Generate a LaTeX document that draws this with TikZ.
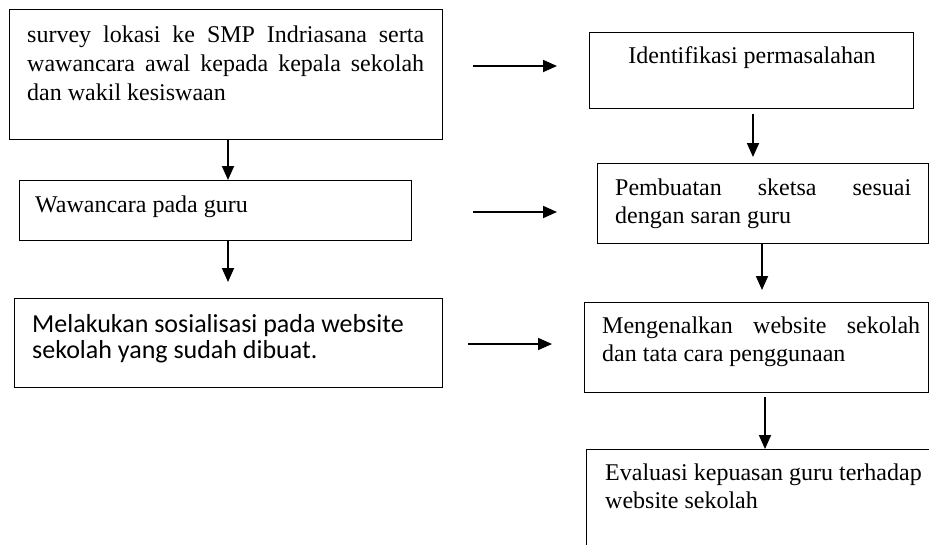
\documentclass[tikz,border=0pt]{standalone}
\usepackage{fontspec}
\setmainfont{Liberation Serif}
\newfontfamily\carlito{Carlito}
\usetikzlibrary{arrows.meta}
\begin{document}
\begin{tikzpicture}[x=1pt,y=-1pt,
  box/.style={draw, line width=1.2pt, inner sep=0pt, anchor=north west},
  txt/.style={anchor=base west, inner sep=0pt, font=\fontsize{24}{29}\selectfont},
  ctxt/.style={anchor=base west, inner sep=0pt, font=\carlito\fontsize{26}{26}\selectfont},
  arr/.style={line width=1.8pt, -{Triangle[length=14pt,width=12pt]}}]
\useasboundingbox (0,0) rectangle (929,544);
\fill[white] (0,0) rectangle (929,544);
\clip (0,0) rectangle (929,544);
% boxes
\node[box, minimum width=433pt, minimum height=130pt] (b1) at (9,9) {};
\node[box, minimum width=392pt, minimum height=60pt] (b2) at (19,180) {};
\node[box, minimum width=428pt, minimum height=89pt] (b3) at (14,298) {};
\node[box, minimum width=324pt, minimum height=76pt] (r1) at (589,32) {};
\node[box, minimum width=331pt, minimum height=80pt] (r2) at (597,163) {};
\node[box, minimum width=344pt, minimum height=90pt] (r3) at (584,302) {};
\node[box, minimum width=343pt, minimum height=120pt] (r4) at (586,449) {};
% texts
\node[txt] (t1a) at (27,42) {\makebox[397pt][s]{survey lokasi ke SMP Indriasana serta}};
\node[txt] (t1b) at (27,71) {\makebox[397pt][s]{wawancara awal kepada kepala sekolah}};
\node[txt] (t1c) at (27,100) {dan wakil kesiswaan};
\node[txt] (t2) at (35,212) {Wawancara pada guru};
\node[ctxt] (t3a) at (32,332) {Melakukan sosialisasi pada website};
\node[ctxt] (t3b) at (32,358) {sekolah yang sudah dibuat.};
\node[txt, anchor=base] (u1) at (752,63) {Identifikasi permasalahan};
\node[txt] (u2a) at (615,195) {\makebox[296pt][s]{Pembuatan sketsa sesuai}};
\node[txt] (u2b) at (615,223) {dengan saran guru};
\node[txt] (u3a) at (602,333) {\makebox[318pt][s]{Mengenalkan website sekolah}};
\node[txt] (u3b) at (602,361) {dan tata cara penggunaan};
\node[txt] (u4a) at (605,480) {Evaluasi kepuasan guru terhadap};
\node[txt] (u4b) at (605,508) {website sekolah};
% arrow positions
\coordinate (xa) at (228,0);
\coordinate (xr1) at (753,0);
\coordinate (xr2) at (762,0);
\coordinate (xr3) at (765,0);
\coordinate (h1s) at (473,66);
\coordinate (h1e) at (557,66);
\coordinate (h2s) at (473,212);
\coordinate (h2e) at (557,212);
\coordinate (h3s) at (468,344);
\coordinate (h3e) at (552,344);
\coordinate (r1tip) at (753,157);
\coordinate (r2tip) at (762,290);
\coordinate (r3top) at (765,397);
\coordinate (b2tip) at (228,282);
% connectors
\draw[arr] (b1.south -| xa) -- (b2.north -| xa);
\draw[arr] (b2.south -| xa) -- (b2tip);
\draw[arr] (h1s) -- (h1e);
\draw[arr] (h2s) -- (h2e);
\draw[arr] (h3s) -- (h3e);
\draw[arr] ([yshift=-5pt]r1.south -| xr1) -- (r1tip);
\draw[arr] (r2.south -| xr2) -- (r2tip);
\draw[arr] (r3top) -- (r4.north -| xr3);
\end{tikzpicture}
\end{document}
